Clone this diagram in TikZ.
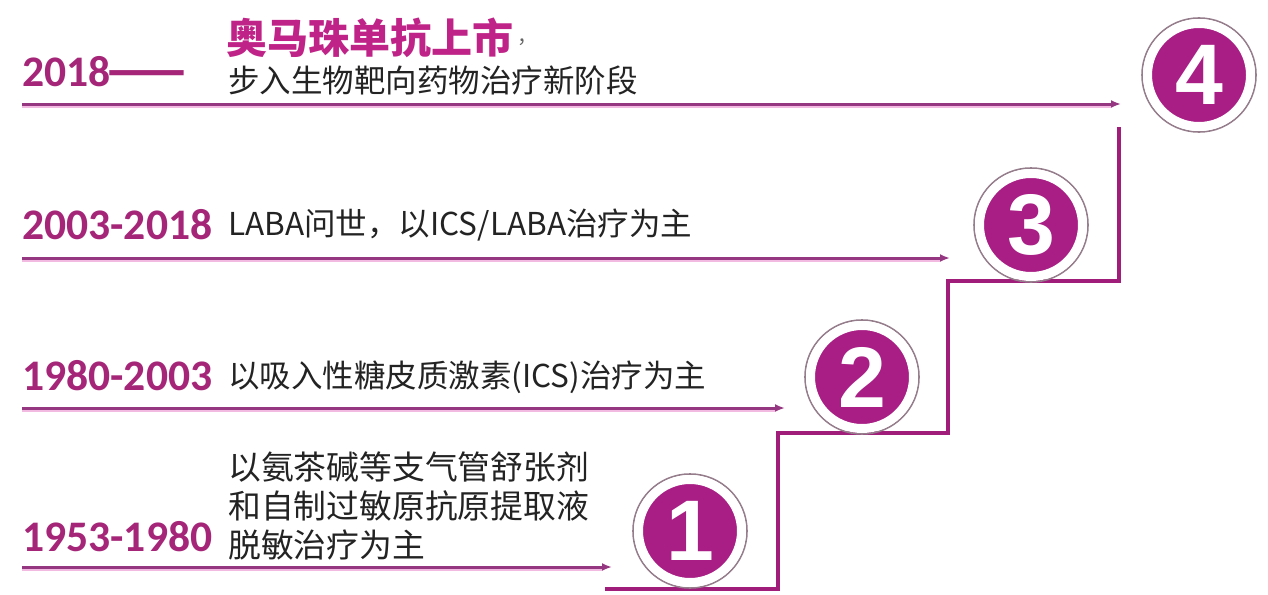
\documentclass[tikz,border=0pt]{standalone}
\usepackage{fontspec}
\newfontfamily\cjk{Noto Sans CJK SC}
\newfontfamily\yearfont{Carlito}
\newfontfamily\numfont{Liberation Sans}
\usetikzlibrary{arrows.meta}
\definecolor{yearc}{RGB}{165,38,120}
\definecolor{titlec}{RGB}{192,35,135}
\definecolor{linec}{RGB}{150,55,130}
\definecolor{shadowc}{RGB}{242,185,225}
\definecolor{stairc}{RGB}{160,30,122}
\definecolor{circfill}{RGB}{168,30,132}
\definecolor{ringc}{RGB}{150,125,140}
\definecolor{txtc}{RGB}{35,35,35}
\tikzset{
  year/.style={anchor=west,inner sep=0pt,text=yearc,font=\yearfont\bfseries\fontsize{43.6}{50}\selectfont},
  desc/.style={anchor=west,inner sep=0pt,text=txtc,font=\cjk\fontsize{31.5}{39}\selectfont,align=left},
  tline/.style={draw=linec,line width=3pt,-{Latex[length=10pt,width=8pt]}},
  tshadow/.style={draw=shadowc,line width=3pt},
  stair/.style={draw=stairc,line width=3.2pt,line join=miter},
  badge/.style={circle,draw=white,line width=9pt,fill=circfill,minimum size=103pt,inner sep=0pt,
    text=white,font=\numfont\bfseries\fontsize{86}{86}\selectfont},
  ring/.style={circle,draw=ringc,line width=1.6pt,minimum size=114pt,inner sep=0pt}
}
\begin{document}
\begin{tikzpicture}[x=1pt,y=-1pt]
\useasboundingbox (0,0) rectangle (1268,594);
\fill[white] (0,0) rectangle (1268,594);
% coordinates for arrows
\coordinate (a4s) at (22,104); \coordinate (a4e) at (1121,104);
\coordinate (a3s) at (22,258); \coordinate (a3e) at (950,258);
\coordinate (a2s) at (22,408); \coordinate (a2e) at (785,408);
\coordinate (a1s) at (22,567); \coordinate (a1e) at (612,567);
% shadows
\foreach \s/\e in {a4s/a4e,a3s/a3e,a2s/a2e,a1s/a1e}{
  \draw[tshadow] ([yshift=-2.5pt]\s) -- ([yshift=-2.5pt,xshift=-10pt]\e);
}
\draw[tline] (a4s) -- (a4e);
\draw[tline] (a3s) -- (a3e);
\draw[tline] (a2s) -- (a2e);
\draw[tline] (a1s) -- (a1e);
% staircase
\coordinate (s0) at (605,589);
\coordinate (s1) at (778,589);
\coordinate (s2) at (778,433);
\coordinate (s3) at (948,433);
\coordinate (s4) at (948,281);
\coordinate (s5) at (1119,281);
\coordinate (s6) at (1119,127);
\draw[stair] (s0) -- (s1) -- (s2) -- (s3) -- (s4) -- (s5) -- (s6);
% badges
\node[ring] (r1) at (690,531) {};
\node[badge] (b1) at (690,531) {1};
\node[ring] (r2) at (862,377) {};
\node[badge] (b2) at (862,377) {2};
\node[ring] (r3) at (1031,225) {};
\node[badge] (b3) at (1031,225) {3};
\node[ring] (r4) at (1199,75) {};
\node[badge] (b4) at (1199,75) {4};
% years
\node[year] (y4) at (22,72) {2018\hspace{-3pt}{\cjk\bfseries\fontsize{46}{48}\selectfont ——}};
\node[year] (y3) at (22,225) {2003-2018};
\node[year] (y2) at (22,376) {1980-2003};
\node[year] (y1) at (22,537) {1953-1980};
% descriptions
\node[anchor=west,inner sep=0pt,text=titlec,font=\cjk\bfseries\fontsize{41}{44}\selectfont] (t4) at (226,38) {奥马珠单抗上市};
\node[anchor=west,inner sep=0pt,text=txtc!70,font=\cjk\fontsize{20}{22}\selectfont] (c4) at ([xshift=4pt,yshift=-4pt]t4.east) {，};
\node[desc] (d4) at (228,80) {步入生物靶向药物治疗新阶段};
\node[desc] (d3) at (228,225) {LABA问世，以ICS/LABA治疗为主};
\node[desc] (d2) at (228,377) {以吸入性糖皮质激素(ICS)治疗为主};
\node[desc,font=\cjk\fontsize{32.8}{39}\selectfont] (d1) at (228,506) {以氨茶碱等支气管舒张剂\\和自制过敏原抗原提取液\\脱敏治疗为主};
\end{tikzpicture}
\end{document}
